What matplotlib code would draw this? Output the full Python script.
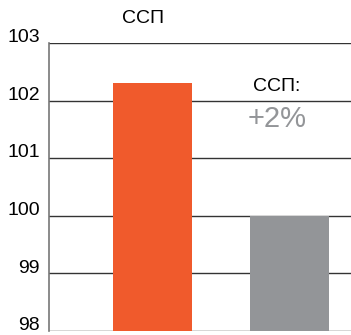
import matplotlib.pyplot as plt
import matplotlib.transforms as mtransforms

plt.rcParams['font.family'] = ['Liberation Sans', 'DejaVu Sans']

categories = ['ССП', 'база']
values = [102.3, 100.0]
colors = ['#F05A2C', '#939598']
yticks = [98, 99, 100, 101, 102, 103]

fig = plt.figure(figsize=(3.51, 3.35), dpi=100)
ax = fig.add_axes([0.1396, 0.0119, 0.8604, 0.8597])

x = list(range(len(categories)))
ax.bar(x, [v - 98 for v in values], bottom=98, width=0.577, color=colors, zorder=3)

ax.set_xlim(-0.757, 1.45)
ax.set_ylim(98, 103)
ax.set_yticks(yticks)
ax.set_yticklabels([])
ax.set_xticks([])

for t in yticks:
    ax.axhline(t, color='#333333', linewidth=1.0, zorder=1)

# tick labels sit a little above their gridlines
lab_tr = ax.get_yaxis_transform() + mtransforms.ScaledTranslation(0, 3.8 / 72, fig.dpi_scale_trans)
for t in yticks:
    ax.text(-0.03, t, str(t), transform=lab_tr, ha='right', va='center',
            fontsize=14, clip_on=False)

for side in ['top', 'right', 'bottom']:
    ax.spines[side].set_visible(False)
ax.spines['left'].set_color('#777777')
ax.spines['left'].set_linewidth(1.2)
ax.tick_params(axis='y', length=0)

# labels above the bars
ax.text(-0.07, 103.43, 'ССП', ha='center', va='center', fontsize=14, clip_on=False)
ax.text(0.909, 102.24, 'ССП:', ha='center', va='center', fontsize=14)
ax.text(0.909, 101.68, '+{:.0f}%'.format((values[0] / values[1] - 1) * 100),
        ha='center', va='center', fontsize=21, color='#939598')

fig.savefig('out.png', dpi=100)
